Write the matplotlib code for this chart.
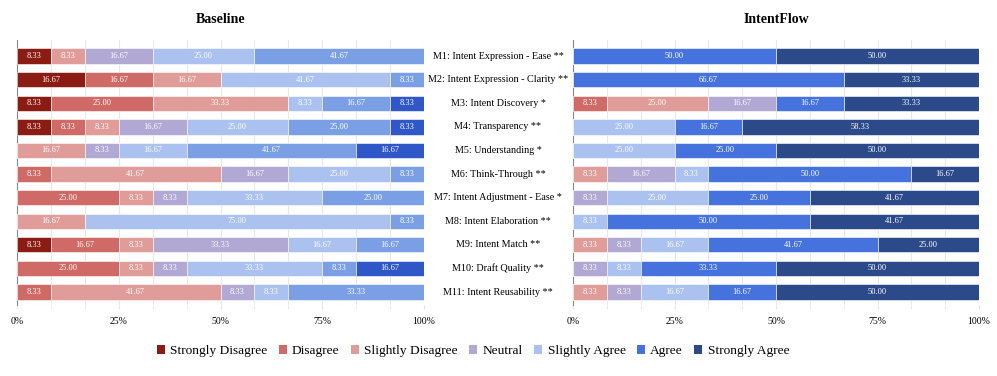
import numpy as np
import matplotlib
matplotlib.use("Agg")
import matplotlib.pyplot as plt
from matplotlib.patches import Patch

plt.rcParams['font.family'] = ['Liberation Serif', 'DejaVu Serif']

levels = ['Strongly Disagree', 'Disagree', 'Slightly Disagree', 'Neutral',
          'Slightly Agree', 'Agree', 'Strongly Agree']

measures = ['M1: Intent Expression - Ease **', 'M2: Intent Expression - Clarity **',
            'M3: Intent Discovery *', 'M4: Transparency **', 'M5: Understanding *',
            'M6: Think-Through **', 'M7: Intent Adjustment - Ease *',
            'M8: Intent Elaboration **', 'M9: Intent Match **', 'M10: Draft Quality **',
            'M11: Intent Reusability **']

# percentages per measure, columns follow `levels`
baseline = [
    [8.33, 0, 8.33, 16.67, 25.00, 41.67, 0],
    [16.67, 16.67, 16.67, 0, 41.67, 8.33, 0],
    [8.33, 25.00, 33.33, 0, 8.33, 16.67, 8.33],
    [8.33, 8.33, 8.33, 16.67, 25.00, 25.00, 8.33],
    [0, 0, 16.67, 8.33, 16.67, 41.67, 16.67],
    [0, 8.33, 41.67, 16.67, 25.00, 8.33, 0],
    [0, 25.00, 8.33, 8.33, 33.33, 25.00, 0],
    [0, 0, 16.67, 0, 75.00, 8.33, 0],
    [8.33, 16.67, 8.33, 33.33, 16.67, 16.67, 0],
    [0, 25.00, 8.33, 8.33, 33.33, 8.33, 16.67],
    [0, 8.33, 41.67, 8.33, 8.33, 33.33, 0],
]

intentflow = [
    [0, 0, 0, 0, 0, 50.00, 50.00],
    [0, 0, 0, 0, 0, 66.67, 33.33],
    [0, 8.33, 25.00, 16.67, 0, 16.67, 33.33],
    [0, 0, 0, 0, 25.00, 16.67, 58.33],
    [0, 0, 0, 0, 25.00, 25.00, 50.00],
    [0, 0, 8.33, 16.67, 8.33, 50.00, 16.67],
    [0, 0, 0, 8.33, 25.00, 25.00, 41.67],
    [0, 0, 0, 0, 8.33, 50.00, 41.67],
    [0, 0, 8.33, 8.33, 16.67, 41.67, 25.00],
    [0, 0, 0, 8.33, 8.33, 33.33, 50.00],
    [0, 0, 8.33, 8.33, 16.67, 16.67, 50.00],
]

base_colors = ['#8b1c13', '#d06a66', '#df9c99', '#b1a8d4', '#abc1f0', '#7b9fe5', '#2f57c7']
flow_colors = ['#8b1c13', '#d06a66', '#df9c99', '#b1a8d4', '#abc1f0', '#4572dc', '#2c4a8a']

fig = plt.figure(figsize=(9.97, 3.76), dpi=100)
ax1 = fig.add_axes([17 / 997, 1 - 305 / 376, 407 / 997, 265 / 376])
ax2 = fig.add_axes([573 / 997, 1 - 305 / 376, 406 / 997, 265 / 376])


def draw(ax, data, colors, title):
    data = np.array(data)
    y = np.arange(len(measures))
    left = np.zeros(len(measures))
    for j in range(len(levels)):
        vals = data[:, j]
        ax.barh(y, vals, left=left, height=0.65, color=colors[j],
                edgecolor='white', linewidth=0.4, zorder=3)
        for i, v in enumerate(vals):
            if v > 0:
                ax.text(left[i] + v / 2, y[i], f'{v:.2f}', ha='center', va='center',
                        color='white', fontsize=6, zorder=4)
        left += vals
    ax.set_xlim(0, 100)
    ax.set_ylim(len(measures) - 0.45, -0.68)
    ax.set_yticks([])
    ax.set_xticks(np.arange(0, 100.01, 100 / 12), minor=True)
    ax.set_xticks([0, 25, 50, 75, 100])
    ax.set_xticklabels(['0%', '25%', '50%', '75%', '100%'], fontsize=7)
    ax.tick_params(axis='x', which='both', length=3, color='#e6e6e6', pad=6)
    ax.grid(axis='x', which='both', color='#e8e8e8', linewidth=0.8, zorder=0)
    for s in ['top', 'right', 'bottom']:
        ax.spines[s].set_visible(False)
    ax.spines['left'].set_color('#888888')
    ax.spines['left'].set_linewidth(0.8)
    ax.set_title(title, fontsize=10, fontweight='bold', pad=12)


draw(ax1, baseline, base_colors, 'Baseline')
draw(ax2, intentflow, flow_colors, 'IntentFlow')

# measure names in the gap between panels
for i, name in enumerate(measures):
    yy = ax1.transData.transform((0, i))[1]
    yf = fig.transFigure.inverted().transform((0, yy))[1]
    fig.text(498 / 997, yf, name, ha='center', va='center', fontsize=7.3)

handles = [Patch(facecolor=c, edgecolor='none') for c in flow_colors]
fig.legend(handles, levels, loc='center', bbox_to_anchor=(473 / 997, 1 - 351 / 376),
           ncol=7, frameon=False, fontsize=9.6, handlelength=0.6, handleheight=0.6,
           handletextpad=0.4, columnspacing=0.85)

fig.savefig('out.png', dpi=100)
